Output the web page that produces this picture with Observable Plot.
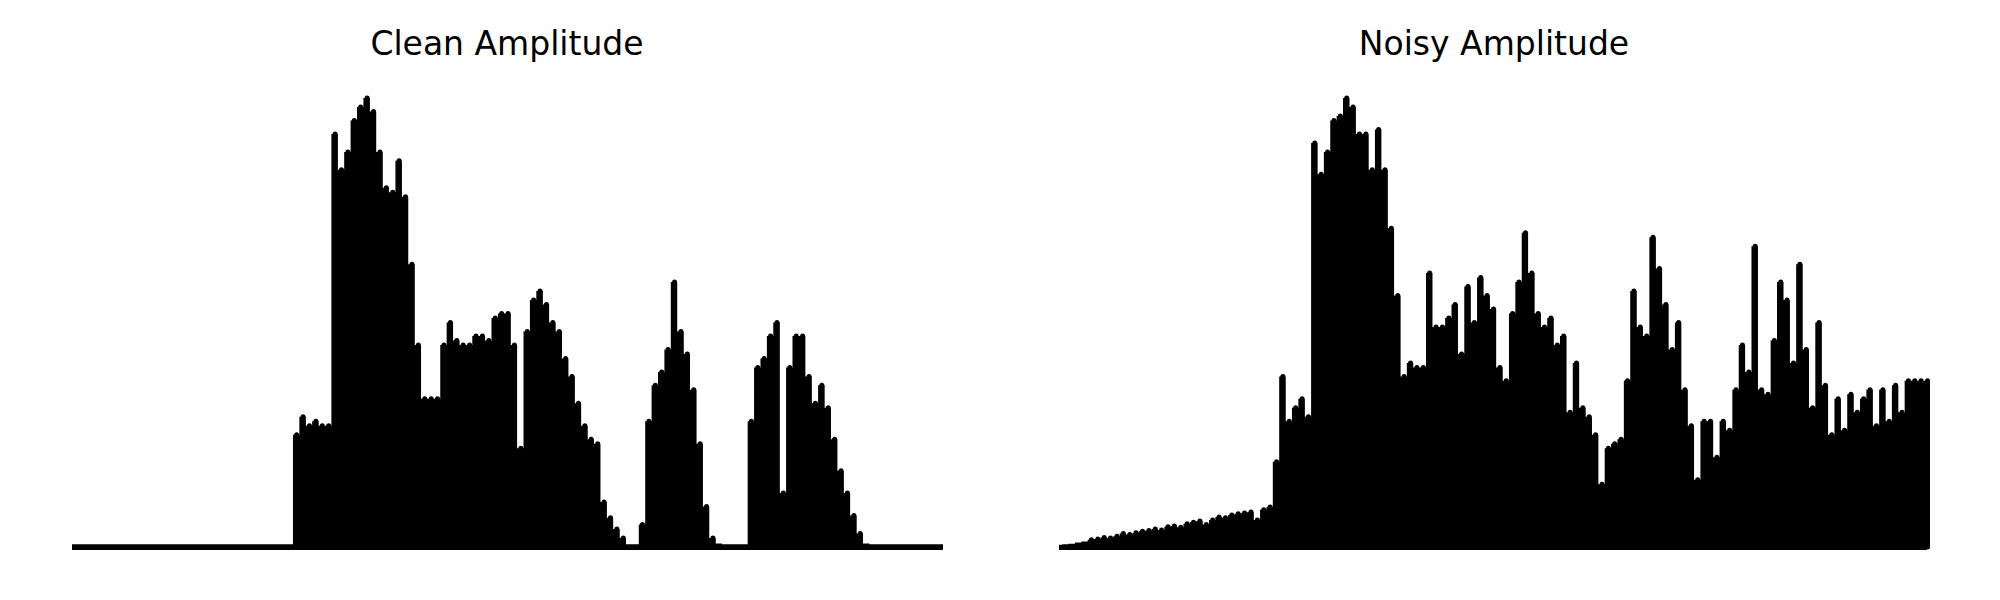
<!DOCTYPE html>
<html>
<head>
<meta charset="utf-8">
<script src="https://cdn.jsdelivr.net/npm/d3@7"></script>
<script src="https://cdn.jsdelivr.net/npm/@observablehq/plot@0.6"></script>
<style>
  html, body { margin: 0; padding: 0; background: #fff; }
  #page { position: relative; width: 2000px; height: 600px; overflow: hidden; font-family: "DejaVu Sans", sans-serif; }
  .title { position: absolute; top: 24px; font-size: 33px; line-height: 40px; color: #000; transform: translateX(-50%); white-space: nowrap; }
  .panel { position: absolute; top: 70px; }
</style>
</head>
<body>
<div id="page"></div>
<script>
const titles = ["Clean Amplitude", "Noisy Amplitude"];

// Envelope of the amplitude (normalised, 137 evenly spaced samples)
const cleanAmplitude = [
  0.006,0.006,0.006,0.006,0.006,0.006,0.006,0.006,0.006,0.006,
  0.006,0.006,0.006,0.006,0.006,0.006,0.006,0.006,0.006,0.006,
  0.006,0.006,0.006,0.006,0.006,0.006,0.006,0.006,0.006,0.006,
  0.006,0.006,0.006,0.006,0.006,
  0.25,0.29,0.27,0.28,0.27,0.27,
  0.92,0.84,0.88,0.95,0.98,1.0,0.97,0.88,0.80,0.79,0.86,0.78,0.63,0.45,
  0.33,0.33,0.33,
  0.45,0.50,0.46,0.45,0.45,0.47,0.47,0.46,0.51,0.52,0.52,0.45,0.22,
  0.48,0.55,0.57,0.54,0.50,0.48,0.42,0.38,0.32,0.27,0.24,0.23,0.10,0.065,0.04,0.02,
  0.006,0.006,
  0.05,0.28,0.36,0.39,0.44,0.59,0.48,0.43,0.35,0.23,0.09,0.02,0.008,
  0.006,0.006,0.006,0.006,
  0.28,0.40,0.42,0.47,0.50,0.12,0.40,0.47,0.47,0.38,0.32,0.36,0.31,0.24,0.17,0.12,0.07,0.03,0.008,
  0.006,0.006,0.006,0.006,0.006,0.006,0.006,0.006,0.006,0.006,0.006,0.006
];

const noisyAmplitude = [
  0.005,0.006,0.007,0.010,0.012,0.016,0.018,0.021,0.020,0.024,
  0.030,0.028,0.032,0.035,0.037,0.040,0.038,0.045,0.047,0.044,
  0.052,0.055,0.058,0.050,0.060,0.067,0.065,0.071,0.074,0.076,
  0.078,0.060,0.083,0.089,0.19,0.38,0.28,0.31,0.33,0.29,
  0.90,0.83,0.88,0.95,0.96,1.0,0.98,0.92,0.92,0.84,
  0.93,0.84,0.71,0.56,0.38,0.41,0.40,0.40,0.61,0.49,
  0.49,0.51,0.54,0.43,0.58,0.50,0.60,0.56,0.53,0.40,
  0.37,0.52,0.59,0.70,0.61,0.52,0.49,0.51,0.45,0.47,
  0.30,0.41,0.31,0.29,0.25,0.14,0.22,0.23,0.24,0.37,
  0.57,0.49,0.47,0.69,0.62,0.54,0.44,0.50,0.35,0.27,
  0.15,0.28,0.28,0.20,0.28,0.26,0.35,0.45,0.39,0.67,
  0.35,0.34,0.46,0.59,0.55,0.41,0.63,0.44,0.31,0.50,
  0.36,0.25,0.33,0.26,0.34,0.30,0.33,0.35,0.27,0.35,
  0.28,0.36,0.30,0.37,0.37,0.37,0.37
];

const page = document.getElementById("page");

function panel(values, left, marginRight, title, titleX) {
  const data = values.map((v, i) => ({i, v}));
  const chart = Plot.plot({
    width: 900,
    height: 500,
    marginLeft: 14,
    marginRight: marginRight,
    marginTop: 28,
    marginBottom: 23,
    x: {axis: null, domain: [0, values.length - 1]},
    y: {axis: null, domain: [0, 1]},
    marks: [
      Plot.areaY(data, {x: "i", y: "v", curve: "step", fill: "black"}),
      Plot.ruleX(data, {filter: (d) => d.v > 0.012, x: "i", y1: 0, y2: "v", stroke: "black", strokeWidth: 5, strokeLinecap: "round"}),
      Plot.ruleY([0], {stroke: "black", strokeWidth: 5})
    ]
  });
  chart.classList.add("panel");
  chart.style.left = left + "px";
  page.appendChild(chart);
  const t = document.createElement("div");
  t.className = "title";
  t.textContent = title;
  t.style.left = titleX + "px";
  page.appendChild(t);
}

panel(cleanAmplitude, 58, 15, titles[0], 507);
panel(noisyAmplitude, 1045, 18, titles[1], 1494);
</script>
</body>
</html>
